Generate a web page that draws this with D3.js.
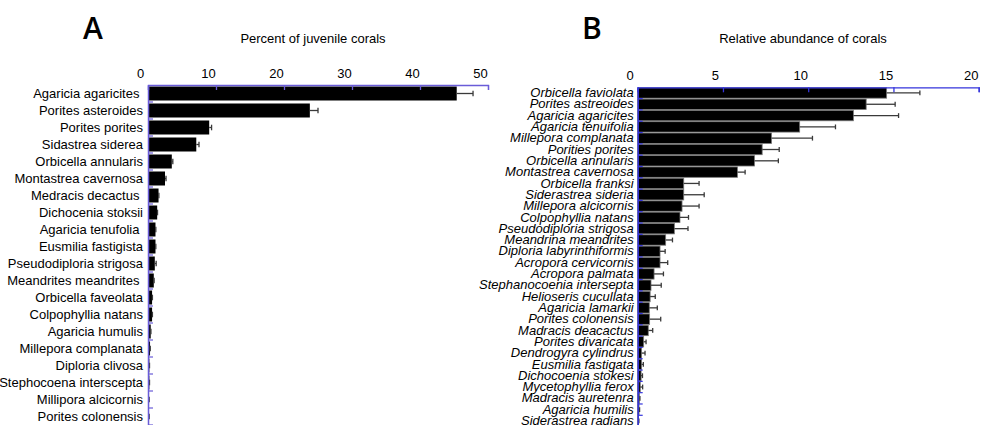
<!DOCTYPE html>
<html>
<head>
<meta charset="utf-8">
<script src="https://cdn.jsdelivr.net/npm/d3@7"></script>
<style>
  html, body { margin: 0; padding: 0; background: #fff; }
  svg { display: block; }
  text { font-family: "Liberation Sans", Arial, sans-serif; fill: #000; }
  .cat text { white-space: pre; }
</style>
</head>
<body>
<svg id="chart" width="984" height="425"></svg>
<script>
// Panel A: juvenile corals (percent)
const juvSpecies = [
  "Agaricia agaricites ", "Porites asteroides", "Porites porites", "Sidastrea siderea",
  "Orbicella annularis", "Montastrea cavernosa", "Medracis decactus ", "Dichocenia stoksii",
  "Agaricia tenufolia ", "Eusmilia fastigista", "Pseudodiploria strigosa", "Meandrites meandrites ",
  "Orbicella faveolata", "Colpophyllia natans", "Agaricia humulis", "Millepora complanata",
  "Diploria clivosa", "Stephocoena interscepta", "Millipora alcicornis", "Porites colonensis"
];
const juvPercent = [45.4, 23.8, 9.0, 7.1, 3.5, 2.5, 1.55, 1.35, 1.1, 1.1, 1.0, 0.85, 0.6, 0.6, 0.4, 0.3, 0.2, 0.2, 0.15, 0.15];
const juvError   = [2.4, 1.2, 0.35, 0.4, 0.15, 0.15, 0.05, 0.05, 0.05, 0.05, 0.2, 0.05, 0.05, 0.05, 0.03, 0.03, 0.02, 0.02, 0.02, 0.02];
const juvTicks = [0, 10, 20, 30, 40, 50];

// Panel B: adult corals (relative abundance)
const adultSpecies = [
  "Orbicella faviolata", "Porites astreoides", "Agaricia agaricites", "Agaricia tenuifolia",
  "Millepora complanata", "Porities porites", "Orbicella annularis", "Montastrea cavernosa",
  "Orbicella franksi", "Siderastrea sideria", "Millepora alcicornis", "Colpophyllia natans",
  "Pseudodiploria strigosa", "Meandrina meandrites", "Diploria labyrinthiformis", "Acropora cervicornis",
  "Acropora palmata", "Stephanocoenia intersepta", "Helioseris cucullata", "Agaricia lamarkii",
  "Porites colonensis", "Madracis deacactus", "Porites divaricata", "Dendrogyra cylindrus",
  "Eusmilia fastigata", "Dichocoenia stokesi", "Mycetophyllia ferox", "Madracis auretenra",
  "Agaricia humilis", "Siderastrea radians"
];
const adultAbundance = [14.6, 13.4, 12.65, 9.5, 7.85, 7.3, 6.85, 5.85, 2.7, 2.7, 2.6, 2.48, 2.15, 1.64, 1.31, 1.31,
  0.96, 0.78, 0.73, 0.68, 0.7, 0.62, 0.35, 0.23, 0.23, 0.2, 0.15, 0.1, 0.08, 0.05];
const adultError = [1.95, 1.7, 2.65, 2.1, 2.4, 1.0, 1.4, 0.45, 0.9, 1.2, 1.0, 0.5, 0.8, 0.4, 0.3, 0.45,
  0.55, 0.6, 0.3, 0.47, 0.65, 0.26, 0.14, 0.2, 0.1, 0.08, 0.14, 0.03, 0.03, 0.02];
const adultTicks = [0, 5, 10, 15, 20];

const svg = d3.select("#chart");

function panel(opts) {
  const g = svg.append("g");
  const x = d3.scaleLinear().domain(opts.xDomain).range([opts.left, opts.right]);
  const y = d3.scaleBand().domain(opts.cats).range([opts.top, opts.top + opts.rowH * opts.cats.length]);

  // bars
  g.append("g").selectAll("rect").data(opts.values).join("rect")
    .attr("x", x(0))
    .attr("y", (d, i) => y(opts.cats[i]) + (opts.rowH - opts.barH) / 2)
    .attr("width", d => x(d) - x(0))
    .attr("height", opts.barH)
    .attr("fill", "#000")
    .attr("stroke", opts.barStroke || "none")
    .attr("stroke-width", opts.barStroke ? 0.8 : 0);

  // error bars (upper side only)
  const eb = g.append("g").attr("stroke", "#3a3a3a").attr("stroke-width", 1.3);
  opts.values.forEach((v, i) => {
    const cy = y(opts.cats[i]) + opts.rowH / 2;
    const x1 = x(v + opts.errors[i]);
    eb.append("line").attr("x1", x(v)).attr("x2", x1).attr("y1", cy).attr("y2", cy);
    eb.append("line").attr("x1", x1).attr("x2", x1).attr("y1", cy - opts.cap).attr("y2", cy + opts.cap);
  });

  // top value axis, ticks pointing into the plot
  const xAxis = g.append("g")
    .attr("transform", `translate(0,${opts.top})`)
    .call(d3.axisTop(x).tickValues(opts.ticks).tickFormat(d3.format("d"))
      .tickSizeInner(-5).tickSizeOuter(-5).tickPadding(7));
  xAxis.selectAll("path, line").attr("stroke", opts.axisColor).attr("stroke-width", 1.3);
  xAxis.selectAll("text").attr("font-size", 13).attr("dx", opts.tickDx)
    .style("font-family", "'Liberation Sans', Arial, sans-serif");

  // category axis on the left
  const yAxis = g.append("g").attr("class", "cat")
    .attr("transform", `translate(${opts.left},0)`)
    .call(d3.axisLeft(y).tickSize(0).tickPadding(opts.labelPad));
  yAxis.select(".domain").attr("stroke", opts.axisColor).attr("stroke-width", 1.5);
  yAxis.selectAll("text").attr("font-size", opts.labelSize)
    .attr("font-style", opts.italic ? "italic" : "normal")
    .style("font-family", "'Liberation Sans', Arial, sans-serif");

  // short ticks at row boundaries
  const bounds = opts.cats.map(c => y(c)).concat([y.range()[1]]);
  g.append("g").selectAll("line").data(bounds.slice(1)).join("line")
    .attr("x1", opts.left).attr("x2", opts.left + 5)
    .attr("y1", d => d).attr("y2", d => d)
    .attr("stroke", opts.axisColor).attr("stroke-width", 1.2);

  // axis title and panel letter
  g.append("text").attr("x", opts.titleX).attr("y", 43).attr("text-anchor", "middle")
    .attr("font-size", 13).text(opts.title);
  g.append("text").attr("x", opts.letterX).attr("y", 39).attr("text-anchor", "middle")
    .attr("font-size", 30).attr("font-weight", 600)
    .style("font-family", "'Open Sans', 'Noto Sans', sans-serif")
    .text(opts.letter);
}

panel({
  cats: juvSpecies, values: juvPercent, errors: juvError, ticks: juvTicks,
  xDomain: [0, 50], left: 148, right: 488, top: 85, rowH: 17, barH: 14, cap: 2.8,
  axisColor: "#6a5cd8", tickDx: -8, labelPad: 5, labelSize: 13, italic: false,
  title: "Percent of juvenile corals", titleX: 313, letter: "A", letterX: 93
});

panel({
  cats: adultSpecies, values: adultAbundance, errors: adultError, ticks: adultTicks,
  xDomain: [0, 20], left: 637.7, right: 978.7, top: 87.3, rowH: 11.31, barH: 10.4, cap: 2.4,
  axisColor: "#3434dc", tickDx: -8, labelPad: 4, labelSize: 13, italic: true, barStroke: "#777",
  title: "Relative abundance of corals", titleX: 803, letter: "B", letterX: 592
});
</script>
</body>
</html>
